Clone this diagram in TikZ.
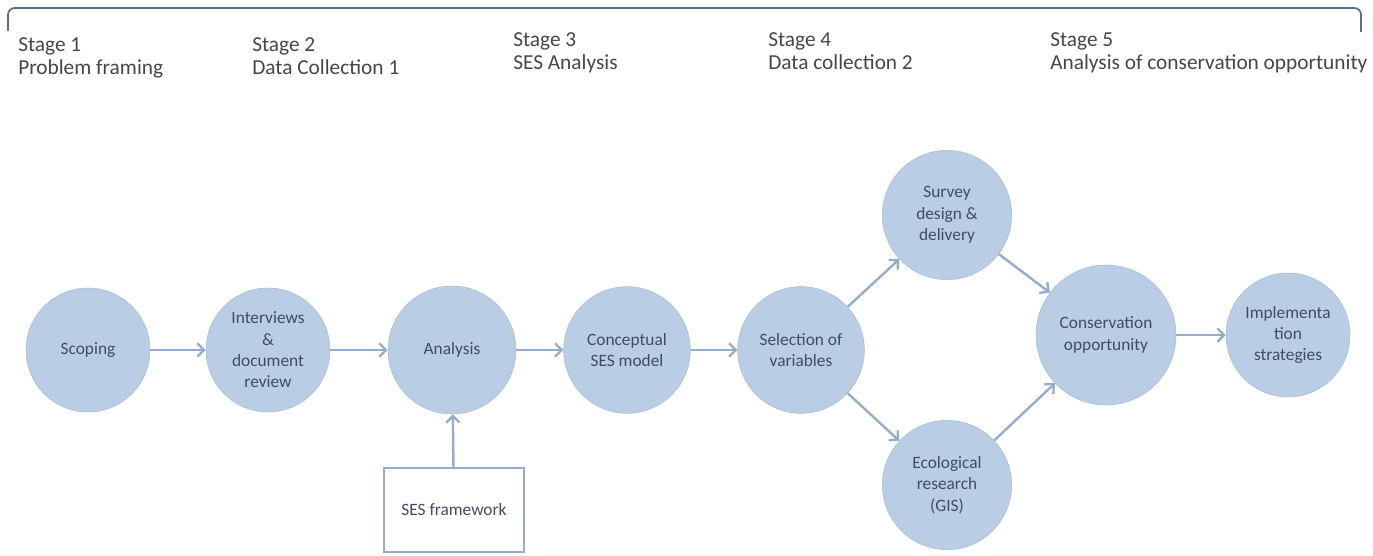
\documentclass[tikz,border=0pt]{standalone}
\usepackage{fontspec}
\setmainfont{Carlito}
\usepackage{xcolor}
\usepackage{tikz}
\usetikzlibrary{arrows.meta}
\definecolor{circblue}{RGB}{185,205,229}
\definecolor{circedge}{RGB}{170,188,212}
\definecolor{flowblue}{RGB}{150,172,205}
\definecolor{bracketblue}{RGB}{88,110,150}
\definecolor{stagegray}{RGB}{70,70,70}
\definecolor{circtext}{RGB}{66,76,96}
\tikzset{
  stagelabel/.style={
    anchor=north west,
    inner sep=0pt,
    align=left,
    text=stagegray,
    font=\fontsize{16}{17.5}\selectfont
  },
  stepcirc/.style={
    circle,
    draw=circedge,
    line width=0.4pt,
    fill=circblue,
    minimum size=93pt,
    inner sep=0pt,
    align=center,
    text=circtext,
    font=\fontsize{13}{16}\selectfont
  },
  bigcirc/.style={
    stepcirc,
    minimum size=97pt
  },
  framebox/.style={
    rectangle,
    draw=flowblue,
    line width=1.6pt,
    fill=white,
    minimum width=105pt,
    minimum height=63pt,
    align=center,
    text=circtext,
    font=\fontsize{13}{16}\selectfont
  },
  flow/.style={-{Straight Barb[length=5pt,width=10pt]}, line width=1.8pt, flowblue}
}
\begin{document}
\begin{tikzpicture}[x=0.75pt,y=-0.75pt]
\useasboundingbox (0,0) rectangle (1373,556);
% stage bracket
\draw[bracketblue, line width=1.3pt, rounded corners=5pt] (8,31) -- (8,8) -- (1361,8) -- (1361,32);
% stage headings
\node[stagelabel] (st1) at (18,37) {Stage 1\\Problem framing};
\node[stagelabel] (st2) at (252,37) {Stage 2\\Data Collection 1};
\node[stagelabel] (st3) at (513,32) {Stage 3\\SES Analysis};
\node[stagelabel] (st4) at (768,32) {Stage 4\\Data collection 2};
\node[stagelabel] (st5) at (1050,32) {Stage 5\\Analysis of conservation opportunity};
% process circles
\node[stepcirc] (scope) at (88,350) {Scoping};
\node[stepcirc] (interv) at (268,350) {Interviews\\\&\\document\\review};
\node[stepcirc, minimum size=96pt] (anal) at (452,350) {Analysis};
\node[stepcirc, minimum size=95pt] (concept) at (627,350) {Conceptual\\SES model};
\node[stepcirc, minimum size=95pt] (select) at (801,350) {Selection of\\variables};
\node[bigcirc] (survey) at (947,215) {Survey\\design \&\\delivery};
\node[bigcirc] (ecol) at (947,485) {Ecological\\research\\(GIS)};
\node[stepcirc, minimum size=105pt] (conserv) at (1106,335) {Conservation\\opportunity};
\node[stepcirc] (implem) at (1288,335) {Implementa\\tion\\strategies};
\node[framebox] (sesfw) at (454,510) {SES framework};
\draw[flow] (scope) -- (interv);
\draw[flow] (interv) -- (anal);
\draw[flow] (anal) -- (concept);
\draw[flow] (concept) -- (select);
\draw[flow] (select) -- (survey);
\draw[flow] (select) -- (ecol);
\draw[flow] (survey) -- (conserv);
\draw[flow] (ecol) -- (conserv);
\draw[flow] (conserv) -- (implem);
\draw[flow] (sesfw) -- (anal);
\end{tikzpicture}
\end{document}
